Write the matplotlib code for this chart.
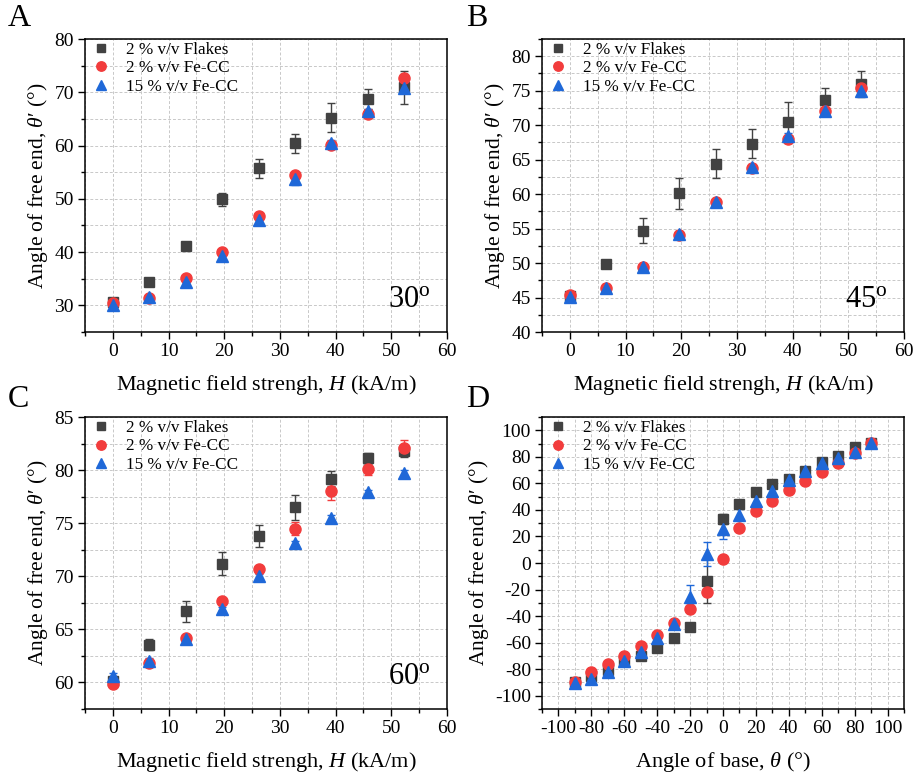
import numpy as np
import matplotlib.pyplot as plt
from matplotlib.ticker import MultipleLocator
from matplotlib.lines import Line2D

plt.rcParams['font.family'] = ['Liberation Serif', 'DejaVu Serif']
plt.rcParams['mathtext.fontset'] = 'custom'
plt.rcParams['mathtext.rm'] = 'Liberation Serif'
plt.rcParams['mathtext.it'] = 'Liberation Serif:italic'
plt.rcParams['axes.unicode_minus'] = False

#field strength (kA/m) for panels A-C
H = [0, 6.5, 13.1, 19.6, 26.2, 32.7, 39.2, 45.8, 52.3]

# A: base at 30 deg
a_flk = [30.6, 34.4, 41.2, 49.9, 55.7, 60.4, 65.2, 68.8, 70.9]
a_flk_err = [0.3, 0.3, 0.3, 1.2, 1.8, 1.8, 2.7, 1.9, 3.1]
a_fe2 = [30.4, 31.3, 35.2, 40.1, 46.7, 54.5, 60.1, 66.0, 72.6]
a_fe2_err = [0.4, 0.5, 0.5, 0.5, 0.6, 0.6, 0.6, 0.5, 0.9]
a_fe15 = [30.1, 31.6, 34.4, 39.3, 46.0, 53.8, 60.5, 66.4, 70.8]
a_fe15_err = [0.3, 0.4, 0.4, 0.5, 1.0, 1.2, 0.6, 0.5, 0.5]

# B: base at 45 deg
b_flk = [45.2, 49.9, 54.7, 60.1, 64.4, 67.3, 70.5, 73.6, 76.0]
b_flk_err = [0.3, 0.3, 1.8, 2.2, 2.1, 2.1, 2.8, 1.8, 1.9]
b_fe2 = [45.4, 46.4, 49.4, 54.0, 58.8, 63.8, 68.0, 72.0, 75.4]
b_fe2_err = [0.4, 0.6, 0.4, 0.4, 0.5, 0.4, 0.6, 0.5, 0.6]
b_fe15 = [45.1, 46.4, 49.4, 54.2, 58.8, 63.9, 68.4, 72.0, 74.9]
b_fe15_err = [0.3, 0.4, 0.4, 0.4, 0.4, 0.4, 0.4, 0.4, 0.4]

# C: base at 60 deg
c_flk = [60.1, 63.55, 66.7, 71.2, 73.8, 76.5, 79.2, 81.1, 81.8]
c_flk_err = [0.2, 0.5, 1.0, 1.1, 1.0, 1.2, 0.7, 0.5, 0.6]
c_fe2 = [59.9, 61.8, 64.2, 67.7, 70.7, 74.5, 78.0, 80.1, 82.1]
c_fe2_err = [0.2, 0.3, 0.3, 0.3, 0.3, 0.6, 0.8, 0.6, 0.7]
c_fe15 = [60.6, 62.0, 64.1, 66.9, 70.0, 73.1, 75.5, 77.9, 79.7]
c_fe15_err = [0.3, 0.3, 0.3, 0.2, 0.2, 0.2, 0.3, 0.2, 0.3]

# D: sweep of base angle
theta = [-90, -80, -70, -60, -50, -40, -30, -20, -10, 0, 10, 20, 30, 40, 50, 60, 70, 80, 90]
d_flk = [-90.0, -85.5, -80.5, -74.0, -70.4, -64.4, -56.6, -48.3, -13.3, 33.2, 44.8, 53.3,
         59.9, 63.6, 69.2, 76.2, 80.5, 87.3, 90.5]
d_flk_err = [1, 1, 1, 1, 1.5, 1, 2, 2.5, 17, 4, 2.5, 2, 1.5, 1, 1, 1, 1, 1, 1]
d_fe2 = [-89.6, -82.3, -76.0, -69.7, -62.4, -54.6, -45.3, -34.5, -21.9, 3.3, 26.4, 39.0,
         47.0, 55.2, 62.1, 68.3, 75.0, 83.0, 90.3]
d_fe2_err = [1, 1, 1, 1, 1, 1, 1, 2.5, 3, 1, 1, 1, 1, 1, 1, 1, 1, 1, 1]
d_fe15 = [-90.6, -87.5, -81.8, -74.2, -67.4, -56.6, -45.8, -25.9, 6.8, 26.0, 36.5, 46.5,
          54.1, 62.9, 69.2, 75.5, 79.2, 83.8, 90.1]
d_fe15_err = [1, 1, 1, 1, 1.5, 2, 2, 9.5, 9, 8, 4, 4, 3, 2, 1.5, 1.5, 1.5, 1, 1]

labels = ['2 % v/v Flakes', '2 % v/v Fe-CC', '15 % v/v Fe-CC']
colors = ['#424242', '#f23c3c', '#1f68d8']
markers = ['s', 'o', '^']
msizes = [7, 8, 8.5]

fig = plt.figure(figsize=(9.18, 7.77), dpi=100)
axA = fig.add_axes([0.0926, 0.5727, 0.3943, 0.3771])
axB = fig.add_axes([0.5904, 0.5727, 0.3943, 0.3771])
axC = fig.add_axes([0.0926, 0.0875, 0.3943, 0.3758])
axD = fig.add_axes([0.5904, 0.0875, 0.3943, 0.3758])

panels = [
    (axA, H, [a_flk, a_fe2, a_fe15], [a_flk_err, a_fe2_err, a_fe15_err]),
    (axB, H, [b_flk, b_fe2, b_fe15], [b_flk_err, b_fe2_err, b_fe15_err]),
    (axC, H, [c_flk, c_fe2, c_fe15], [c_flk_err, c_fe2_err, c_fe15_err]),
    (axD, theta, [d_flk, d_fe2, d_fe15], [d_flk_err, d_fe2_err, d_fe15_err]),
]

for ax, x, ys, errs in panels:
    for y, e, c, m, ms in zip(ys, errs, colors, markers, msizes):
        ax.errorbar(x, y, yerr=e, fmt=m, color=c, ms=ms, mec=c, ecolor=c,
                    elinewidth=1.0, capsize=3, capthick=1.0, zorder=3)
    ax.grid(True, which='both', ls=(0, (3, 2)), color='#c8c8c8', lw=0.7, zorder=0)
    ax.tick_params(which='both', direction='out', top=False, right=False,
                   labelsize=14, width=1, pad=3)
    ax.tick_params(which='major', length=5)
    ax.tick_params(which='minor', length=3)
    for s in ax.spines.values():
        s.set_linewidth(1.1)
    ax.set_axisbelow(True)
    ax.set_ylabel("Angle of free end, $\\theta$′ (°)", fontsize=15.5, labelpad=3)
    handles = [Line2D([], [], ls='none', marker=m, color=c, ms=ms * 0.85)
               for c, m, ms in zip(colors, markers, msizes)]
    ax.legend(handles, labels, loc='upper left', frameon=False, fontsize=12.3,
              handlelength=1.5, handletextpad=0.7, labelspacing=0.12,
              borderaxespad=0.0, borderpad=0.2)

for ax in (axA, axB, axC):
    ax.set_xlim(-5, 60)
    ax.xaxis.set_major_locator(MultipleLocator(10))
    ax.xaxis.set_minor_locator(MultipleLocator(5))
    ax.set_xlabel('Magnetic field strengh, $H$ (kA/m)', fontsize=16, labelpad=9)

axA.set_ylim(25, 80)
axA.yaxis.set_major_locator(MultipleLocator(10))
axA.yaxis.set_minor_locator(MultipleLocator(5))

axB.set_ylim(40, 82.5)
axB.yaxis.set_major_locator(MultipleLocator(5))
axB.yaxis.set_minor_locator(MultipleLocator(2.5))

axC.set_ylim(57.5, 85)
axC.yaxis.set_major_locator(MultipleLocator(5))
axC.yaxis.set_minor_locator(MultipleLocator(2.5))

axD.set_xlim(-110, 110)
axD.set_ylim(-110, 110)
axD.xaxis.set_major_locator(MultipleLocator(20))
axD.xaxis.set_minor_locator(MultipleLocator(10))
axD.yaxis.set_major_locator(MultipleLocator(20))
axD.yaxis.set_minor_locator(MultipleLocator(10))
axD.set_xlabel('Angle of base, $\\theta$ (°)', fontsize=16, labelpad=9)

# base angle tags
axA.text(0.955, 0.06, '30$^\\mathrm{o}$', transform=axA.transAxes, ha='right',
         va='bottom', fontsize=22)
axB.text(0.955, 0.06, '45$^\\mathrm{o}$', transform=axB.transAxes, ha='right',
         va='bottom', fontsize=22)
axC.text(0.955, 0.06, '60$^\\mathrm{o}$', transform=axC.transAxes, ha='right',
         va='bottom', fontsize=22)

# panel letters
for lbl, (xf, yf) in zip('ABCD', [(0.008, 0.995), (0.508, 0.995), (0.008, 0.505), (0.508, 0.505)]):
    fig.text(xf, yf, lbl, fontsize=23, ha='left', va='top')

fig.savefig('out.png', dpi=100)
